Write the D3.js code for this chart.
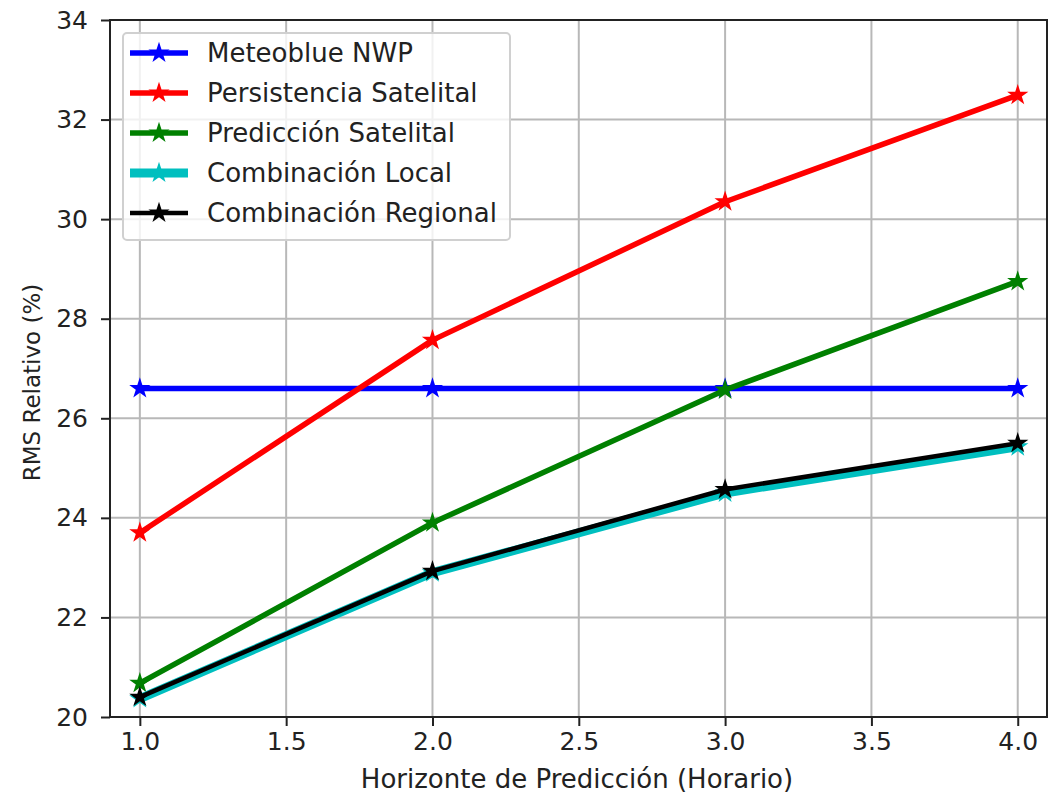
<!DOCTYPE html>
<html>
<head>
<meta charset="utf-8">
<script src="https://cdn.jsdelivr.net/npm/d3@7"></script>
<style>
  body { margin: 0; background: #fff; }
  text { font-family: "DejaVu Sans", sans-serif; }
</style>
</head>
<body>
<div id="container"></div>
<script>
// Data
const horizons = [1.0, 2.0, 3.0, 4.0];
const meteoblue = [26.6, 26.6, 26.6, 26.6];
const persistencia = [23.7, 27.57, 30.35, 32.49];
const prediccion = [20.68, 23.9, 26.57, 28.75];
const combLocal = [20.37, 22.9, 24.5, 25.43];
const combRegional = [20.4, 22.93, 24.57, 25.5];
const xTicks = [1.0, 1.5, 2.0, 2.5, 3.0, 3.5, 4.0];
const yTicks = [20, 22, 24, 26, 28, 30, 32, 34];

const series = [
    { name: "Meteoblue NWP", values: meteoblue, color: "#0000ff", width: 5.5 },
    { name: "Persistencia Satelital", values: persistencia, color: "#ff0000", width: 5.5 },
    { name: "Predicción Satelital", values: prediccion, color: "#008000", width: 5.5 },
    { name: "Combinación Local", values: combLocal, color: "#00bfbf", width: 9 },
    { name: "Combinación Regional", values: combRegional, color: "#000000", width: 4.5 }
];

const width = 1049, height = 797;
const margin = { left: 110, right: 2, top: 20, bottom: 80 };

const svg = d3.select("#container")
    .append("svg")
    .attr("width", width)
    .attr("height", height);

// Scales
const x = d3.scaleLinear().domain([0.898, 4.1]).range([margin.left, width - margin.right]);
const y = d3.scaleLinear().domain([20, 34]).range([height - margin.bottom, margin.top]);

// Grid lines
svg.append("g")
    .selectAll("line")
    .data(xTicks)
    .enter()
    .append("line")
    .attr("x1", d => x(d)).attr("x2", d => x(d))
    .attr("y1", y(20)).attr("y2", y(34))
    .attr("stroke", "#b8b8b8").attr("stroke-width", 2);
svg.append("g")
    .selectAll("line")
    .data(yTicks)
    .enter()
    .append("line")
    .attr("x1", x.range()[0]).attr("x2", x.range()[1])
    .attr("y1", d => y(d)).attr("y2", d => y(d))
    .attr("stroke", "#b8b8b8").attr("stroke-width", 2);

// Axes
const xAxis = svg.append("g")
    .attr("transform", `translate(0,${y(20)})`)
    .call(d3.axisBottom(x).tickValues(xTicks).tickFormat(d3.format(".1f")).tickSize(9).tickPadding(6));
const yAxis = svg.append("g")
    .attr("transform", `translate(${margin.left},0)`)
    .call(d3.axisLeft(y).tickValues(yTicks).tickSize(9).tickPadding(13));
[xAxis, yAxis].forEach(a => {
    a.select(".domain").remove();
    a.selectAll("line").attr("stroke", "#222").attr("stroke-width", 2);
    a.selectAll("text").attr("font-size", 25).attr("fill", "#222")
        .style("font-family", "DejaVu Sans");
});

// Frame
svg.append("rect")
    .attr("x", x.range()[0]).attr("y", y(34))
    .attr("width", x.range()[1] - x.range()[0])
    .attr("height", y(20) - y(34))
    .attr("fill", "none").attr("stroke", "#222").attr("stroke-width", 2);

// Axis labels
svg.append("text")
    .attr("x", 577)
    .attr("y", 788)
    .attr("text-anchor", "middle")
    .attr("font-size", 26).attr("fill", "#222")
    .text("Horizonte de Predicción (Horario)");
svg.append("text")
    .attr("transform", `translate(40,${(y(20) + y(34)) / 2 + 14}) rotate(-90)`)
    .attr("text-anchor", "middle")
    .attr("font-size", 23).attr("fill", "#222")
    .text("RMS Relativo (%)");

// Lines and star markers
const line = d3.line()
    .x((d, i) => x(horizons[i]))
    .y(d => y(d));
const star = d3.symbol().type(d3.symbolStar).size(140);

series.forEach(s => {
    const g = svg.append("g");
    g.append("path")
        .datum(s.values)
        .attr("d", line)
        .attr("fill", "none")
        .attr("stroke", s.color)
        .attr("stroke-width", s.width)
        .attr("stroke-linejoin", "round");
    g.selectAll("path.mk")
        .data(s.values)
        .enter()
        .append("path")
        .attr("class", "mk")
        .attr("d", star)
        .attr("transform", (d, i) => `translate(${x(horizons[i])},${y(d)})`)
        .attr("fill", s.color);
});

// Legend
const legend = svg.append("g").attr("transform", "translate(123,33)");
legend.append("rect")
    .attr("width", 387).attr("height", 207)
    .attr("rx", 4)
    .attr("fill", "rgba(255,255,255,0.8)")
    .attr("stroke", "#d0d0d0").attr("stroke-width", 2);
const rows = legend.selectAll("g.row")
    .data(series)
    .enter()
    .append("g")
    .attr("transform", (d, i) => `translate(0,${20 + i * 40})`);
rows.append("line")
    .attr("x1", 7).attr("x2", 65)
    .attr("stroke", d => d.color)
    .attr("stroke-width", d => d.width);
rows.append("path")
    .attr("d", star)
    .attr("transform", "translate(36,0)")
    .attr("fill", d => d.color);
rows.append("text")
    .attr("x", 84)
    .attr("dy", "0.35em")
    .attr("font-size", 26).attr("fill", "#222")
    .text(d => d.name);
</script>
</body>
</html>
